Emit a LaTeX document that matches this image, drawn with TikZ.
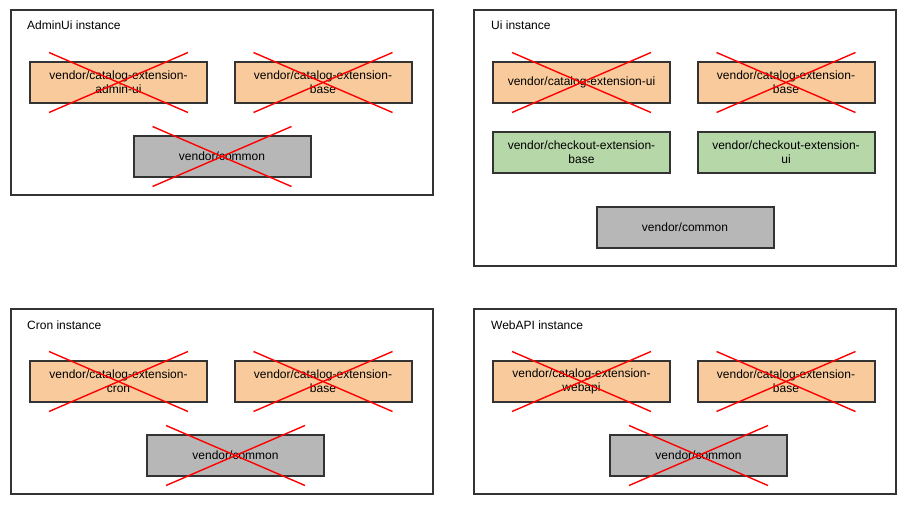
\documentclass[tikz,border=0pt]{standalone}
\usepackage{fontspec}
\setmainfont{Liberation Sans}
\usetikzlibrary{calc}
\definecolor{boxorange}{HTML}{F9CB9C}
\definecolor{boxgreen}{HTML}{B6D7A8}
\definecolor{boxgray}{HTML}{B7B7B7}
\definecolor{edge}{HTML}{333333}
\tikzset{
  panel/.style={draw=edge, line width=1.5pt, fill=white, minimum width=422pt, inner sep=0pt},
  pkg/.style={draw=edge, line width=2pt, minimum width=177pt, minimum height=41pt, inner sep=0pt, align=center, font=\fontsize{12}{14}\selectfont},
  orangebox/.style={pkg, fill=boxorange},
  greenbox/.style={pkg, fill=boxgreen},
  graybox/.style={pkg, fill=boxgray},
  paneltitle/.style={anchor=west, inner sep=0pt, font=\fontsize{12}{14}\selectfont},
  crossline/.style={draw=red, line width=1.4pt}
}
\newcommand{\crossout}[1]{%
  \draw[crossline] ($(#1)+(-69.5,-30)$) -- ($(#1)+(69.5,30)$);
  \draw[crossline] ($(#1)+(69.5,-30)$) -- ($(#1)+(-69.5,30)$);
}
\begin{document}
\begin{tikzpicture}[x=1pt,y=-1pt]
\path[use as bounding box, fill=white] (0,0) rectangle (916,514);

% panels
\node[panel, minimum height=185pt] (p1) at (222,102.5) {};
\node[panel, minimum height=256pt] (p2) at (685,138) {};
\node[panel, minimum height=185pt] (p3) at (222,401.5) {};
\node[panel, minimum height=185pt] (p4) at (685,401.5) {};

\node[paneltitle] (t1) at (27,25.5) {AdminUi instance};
\node[paneltitle] (t2) at (491,25.5) {Ui instance};
\node[paneltitle] (t3) at (27,325.5) {Cron instance};
\node[paneltitle] (t4) at (491,325.5) {WebAPI instance};

% AdminUi
\node[orangebox] (a1) at (118.5,82.5) {vendor/catalog-extension-\\admin-ui};
\node[orangebox] (a2) at (323,82.5) {vendor/catalog-extension-\\base};
\node[graybox] (a3) at (222,156.5) {vendor/common};
\crossout{a1}
\crossout{a2}
\crossout{a3}

% Ui
\node[orangebox] (u1) at (581.5,82.5) {vendor/catalog-extension-ui};
\node[orangebox] (u2) at (786,82.5) {vendor/catalog-extension-\\base};
\node[greenbox] (u3) at (581.5,152.5) {vendor/checkout-extension-\\base};
\node[greenbox] (u4) at (786,152.5) {vendor/checkout-extension-\\ui};
\node[graybox] (u5) at (685,227) {vendor/common};
\crossout{u1}
\crossout{u2}

% Cron
\node[orangebox] (c1) at (118.5,381.5) {vendor/catalog-extension-\\cron};
\node[orangebox] (c2) at (323,381.5) {vendor/catalog-extension-\\base};
\node[graybox] (c3) at (235.5,455.5) {vendor/common};
\crossout{c1}
\crossout{c2}
\crossout{c3}

% WebAPI
\node[orangebox] (w1) at (581.5,381.5) {vendor/catalog-extension-\\webapi};
\node[orangebox] (w2) at (786,381.5) {vendor/catalog-extension-\\base};
\node[graybox] (w3) at (698.5,455.5) {vendor/common};
\crossout{w1}
\crossout{w2}
\crossout{w3}
\end{tikzpicture}
\end{document}
